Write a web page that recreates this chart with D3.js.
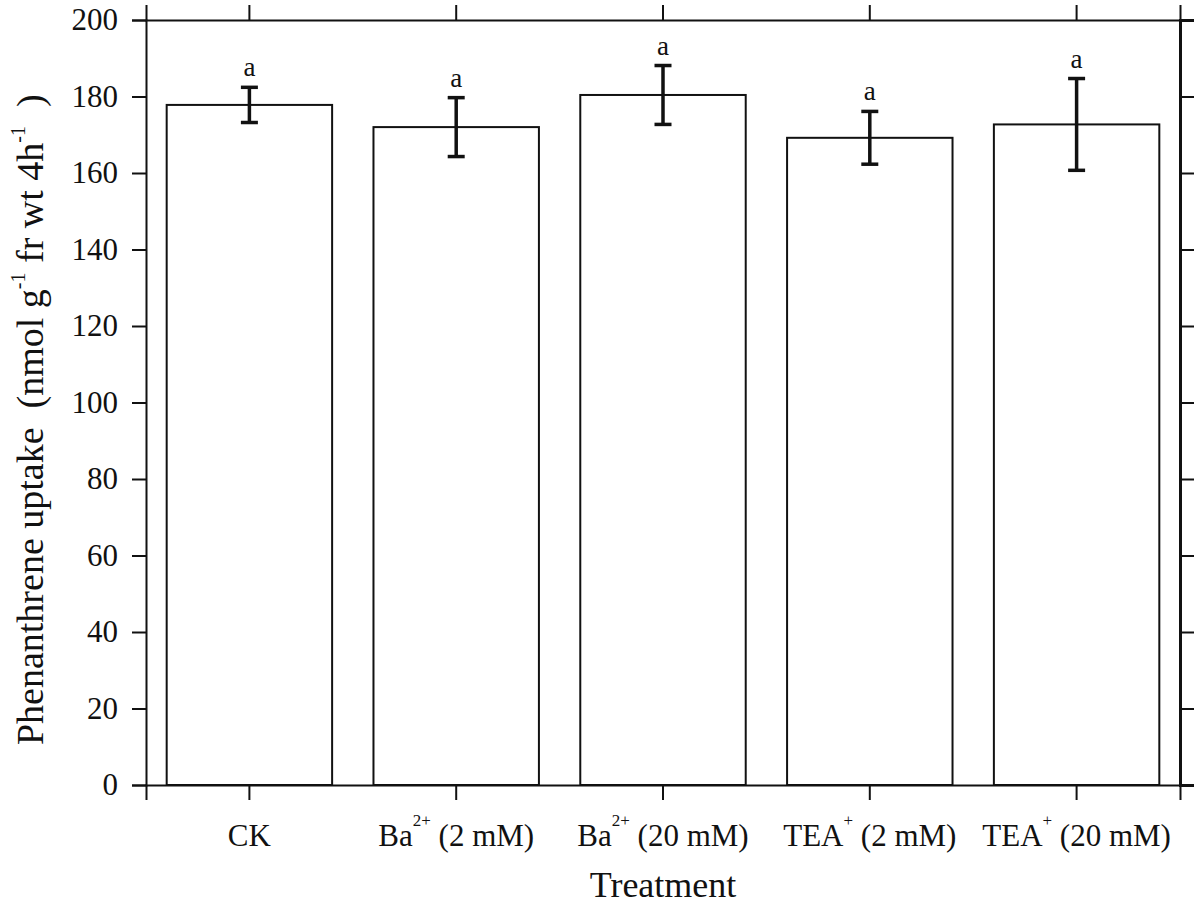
<!DOCTYPE html>
<html>
<head>
<meta charset="utf-8">
<script src="https://cdn.jsdelivr.net/npm/d3@7"></script>
<style>
  body { margin: 0; background: #fff; }
  svg text { font-family: "Liberation Serif", "Times New Roman", serif; fill: #111; }
</style>
</head>
<body>
<div id="chart"></div>
<script>
// data
var treatments = ["CK", "Ba2", "Ba20", "TEA2", "TEA20"];
var uptake = [177.8, 172.0, 180.4, 169.2, 172.7];
var uptakeErr = [4.6, 7.7, 7.7, 6.9, 12.0];
var letters = ["a", "a", "a", "a", "a"];
var labelBase = ["CK", "Ba", "Ba", "TEA", "TEA"];
var labelSup = ["", "2+", "2+", "+", "+"];
var labelTail = ["", " (2 mM)", " (20 mM)", " (2 mM)", " (20 mM)"];
var yTicks = [0, 20, 40, 60, 80, 100, 120, 140, 160, 180, 200];

const width = 1200;
const height = 904;
const margin = {top: 20, right: 20, bottom: 119, left: 146};

const svg = d3.select("#chart").append("svg")
    .attr("width", width)
    .attr("height", height);

const x = d3.scaleBand()
    .domain(treatments)
    .range([margin.left, width - margin.right])
    .paddingInner(0.2)
    .paddingOuter(0.1);

const y = d3.scaleLinear()
    .domain([0, 200])
    .range([height - margin.bottom, margin.top]);

// bars
svg.selectAll("rect.bar")
    .data(treatments)
    .enter()
    .append("rect")
    .attr("class", "bar")
    .attr("x", d => x(d))
    .attr("width", x.bandwidth())
    .attr("y", (d, i) => y(uptake[i]))
    .attr("height", (d, i) => y(0) - y(uptake[i]))
    .style("fill", "#fff")
    .style("stroke", "#111")
    .style("stroke-width", 2);

// error bars
const capW = 17;
const errG = svg.append("g").style("stroke", "#111").style("stroke-width", 3.5);
treatments.forEach(function(t, i) {
    let cx = x(t) + x.bandwidth() / 2;
    let hi = y(uptake[i] + uptakeErr[i]);
    let lo = y(uptake[i] - uptakeErr[i]);
    errG.append("line").attr("x1", cx).attr("x2", cx).attr("y1", hi).attr("y2", lo);
    errG.append("line").attr("x1", cx - capW / 2).attr("x2", cx + capW / 2).attr("y1", hi).attr("y2", hi);
    errG.append("line").attr("x1", cx - capW / 2).attr("x2", cx + capW / 2).attr("y1", lo).attr("y2", lo);
    // significance letter
    svg.append("text")
        .attr("x", cx)
        .attr("y", hi - 11)
        .attr("text-anchor", "middle")
        .style("font-size", "27px")
        .text(letters[i]);
});

// left axis
const left = svg.append("g")
    .attr("transform", `translate(${margin.left},0)`)
    .call(d3.axisLeft(y).tickValues(yTicks).tickSize(14).tickPadding(14));
left.selectAll("text").style("font-size", "31px");

// right axis, no labels
svg.append("g")
    .attr("transform", `translate(${width - margin.right},0)`)
    .call(d3.axisRight(y).tickValues(yTicks).tickSize(14).tickFormat(""))
    .call(g => g.select(".domain").style("stroke-width", 3));

// top axis, no labels
svg.append("g")
    .attr("transform", `translate(0,${margin.top})`)
    .call(d3.axisTop(x).tickSize(15).tickFormat(""));

// bottom axis
const bottom = svg.append("g")
    .attr("transform", `translate(0,${height - margin.bottom})`)
    .call(d3.axisBottom(x).tickSize(15).tickFormat(""));

bottom.selectAll(".tick").each(function(d) {
    let i = treatments.indexOf(d);
    let t = d3.select(this).append("text")
        .attr("y", 61)
        .attr("text-anchor", "middle")
        .style("font-size", "31px");
    t.append("tspan").text(labelBase[i]);
    if (labelSup[i]) {
        t.append("tspan").attr("dy", -20).style("font-size", "17px").text(labelSup[i]);
        t.append("tspan").attr("dy", 20).text(labelTail[i]);
    }
});

// axis styling
svg.selectAll(".domain, .tick line")
    .style("stroke", "#111")
    .filter(function() { return !this.style.strokeWidth; })
    .style("stroke-width", 2);

// axis titles
svg.append("text")
    .attr("x", (margin.left + width - margin.right) / 2)
    .attr("y", 897)
    .attr("text-anchor", "middle")
    .style("font-size", "36px")
    .text("Treatment");

const yTitle = svg.append("text")
    .attr("transform", `translate(43,${y(95.5)}) rotate(-90)`)
    .attr("text-anchor", "middle")
    .style("font-size", "38px");
yTitle.append("tspan").text("Phenanthrene uptake\u2002(nmol g");
yTitle.append("tspan").attr("dy", -18).style("font-size", "20px").text("-1");
yTitle.append("tspan").attr("dy", 18).text(" fr wt 4h");
yTitle.append("tspan").attr("dy", -18).style("font-size", "20px").text("-1");
yTitle.append("tspan").attr("dy", 18).text("\u2002)");
</script>
</body>
</html>
